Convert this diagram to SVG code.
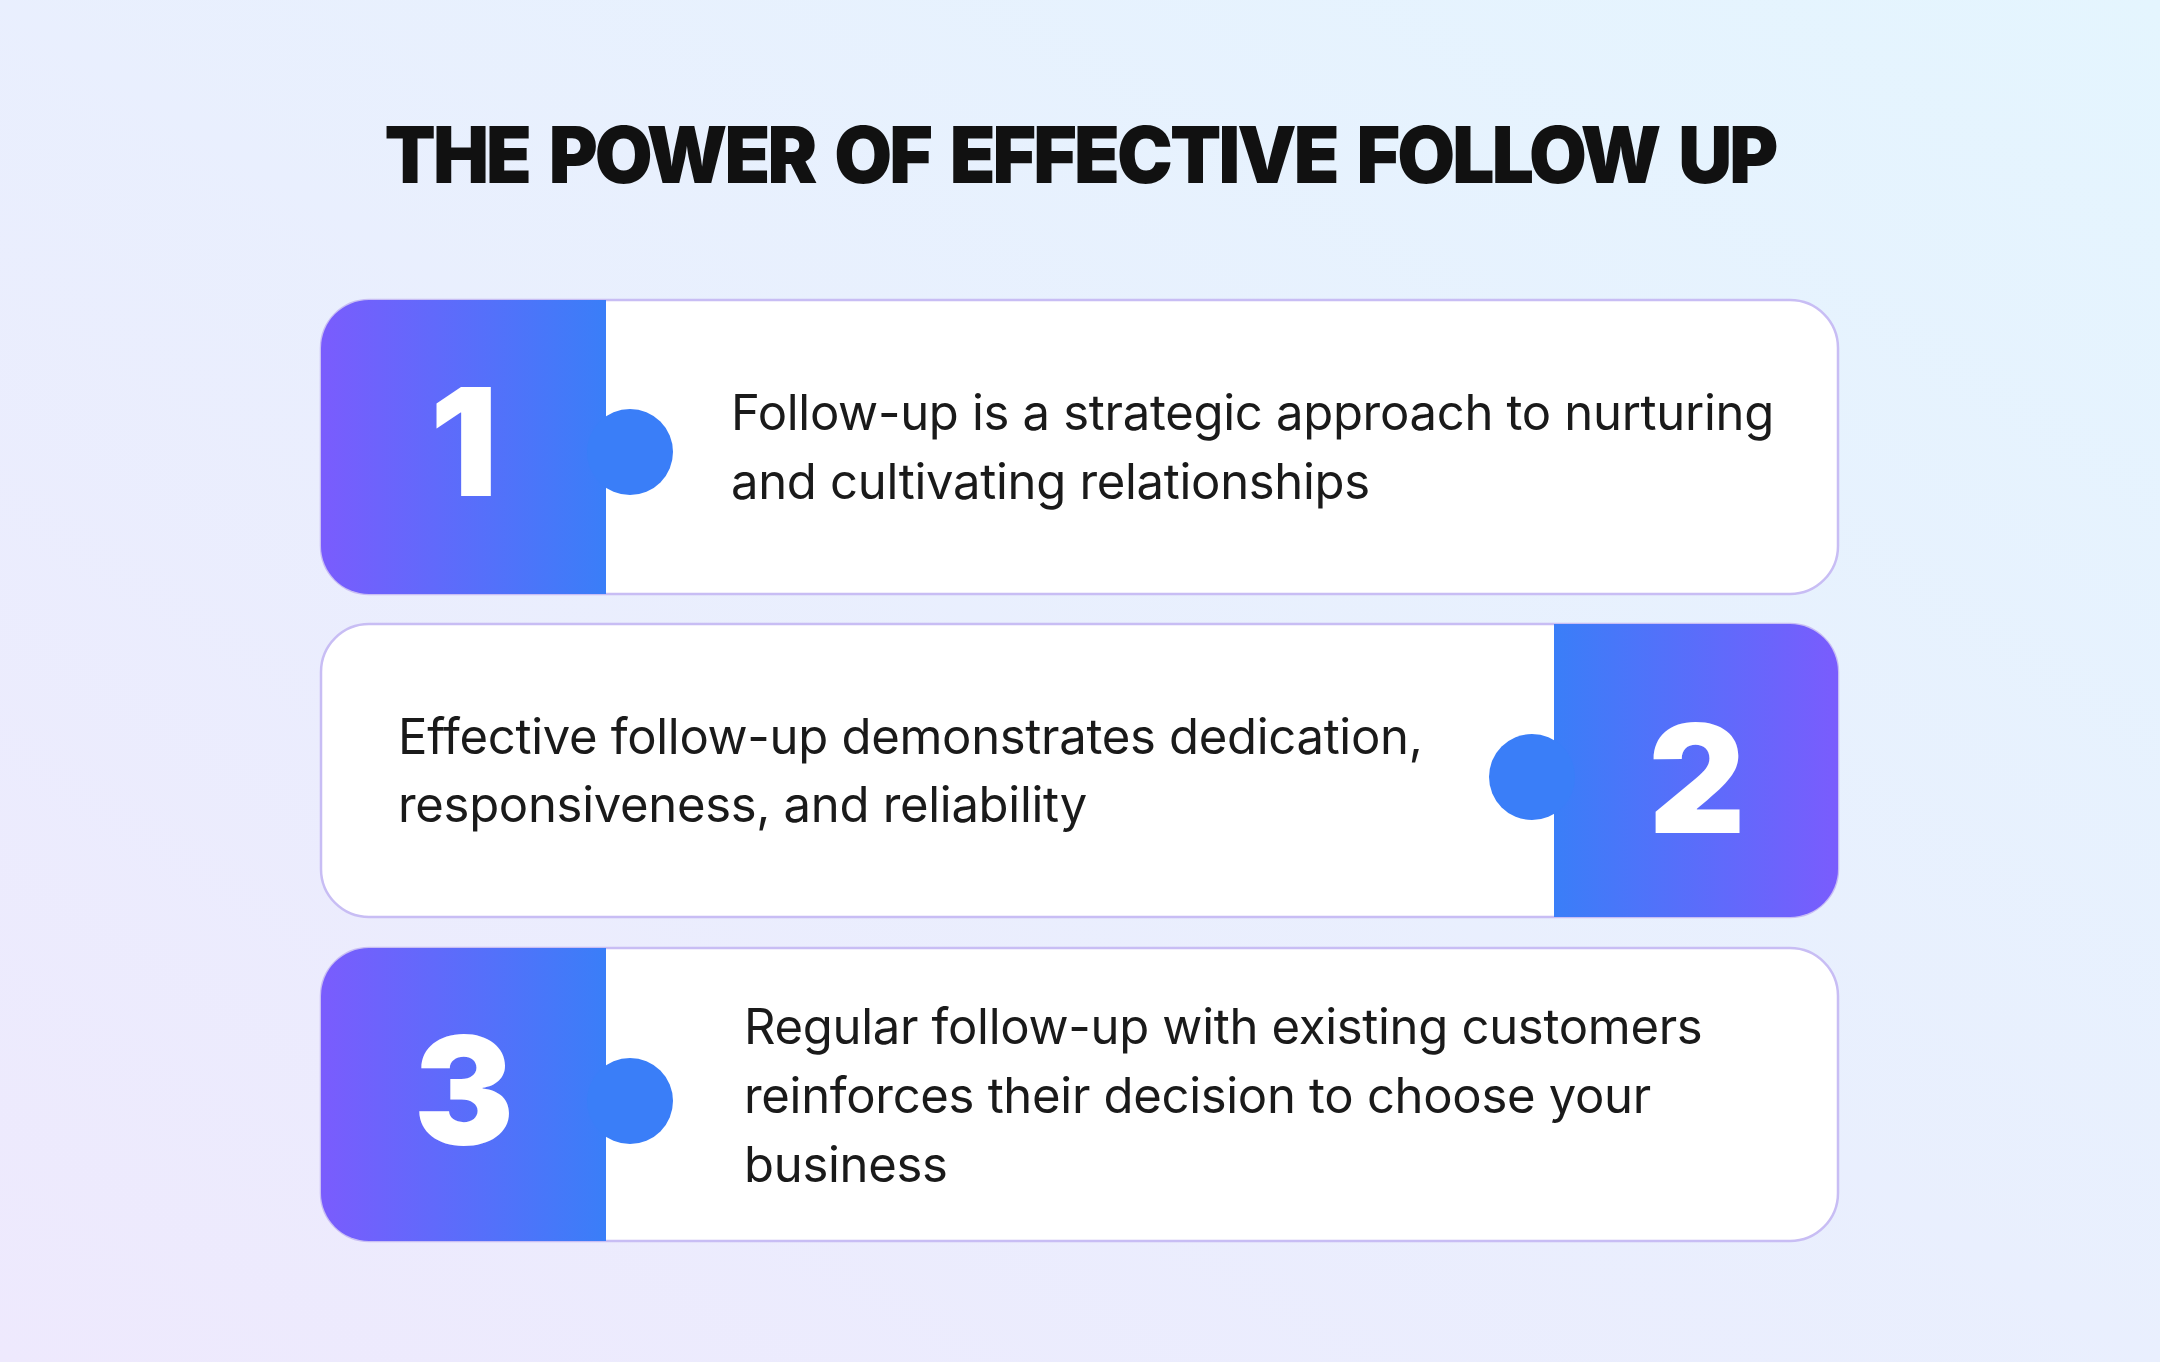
<svg xmlns="http://www.w3.org/2000/svg" width="2160" height="1362" viewBox="0 0 2160 1362">
<defs>
<linearGradient id="bg" x1="0" y1="1" x2="1" y2="0"><stop offset="0" stop-color="#eee9fd"/><stop offset="1" stop-color="#e4f5fe"/></linearGradient>
<linearGradient id="gl" x1="0" y1="0" x2="1" y2="0"><stop offset="0" stop-color="#7a5cfd"/><stop offset="1" stop-color="#3a7ef8"/></linearGradient>
<linearGradient id="gr" x1="1" y1="0" x2="0" y2="0"><stop offset="0" stop-color="#7a5cfd"/><stop offset="1" stop-color="#3a7ef8"/></linearGradient>
<style>
.card{fill:#fff;stroke:#c8bdf4;stroke-width:2.5}
.dot{fill:#3a7ef8}
.num{font-family:Inter,"Liberation Sans",sans-serif;font-weight:900;font-size:150px;fill:#fff;text-anchor:middle}
.txt{font-family:Inter,"Liberation Sans",sans-serif;font-size:49px;fill:#1a1a1a;letter-spacing:-0.3px}
.title{font-family:Inter,"Liberation Sans",sans-serif;font-weight:900;font-size:78px;fill:#111;text-anchor:middle;letter-spacing:-3px;word-spacing:8px}
</style>
</defs>
<rect width="2160" height="1362" fill="url(#bg)"/>
<text class="title" x="1080" y="183" textLength="1391" lengthAdjust="spacingAndGlyphs">THE POWER OF EFFECTIVE FOLLOW UP</text>
<g id="node1">
<rect class="card" x="321" y="300" width="1517" height="294" rx="48"/>
<path d="M606,300 H369 A48,48 0 0 0 321,348 V546 A48,48 0 0 0 369,594 H606 Z" fill="url(#gl)"/>
<circle class="dot" cx="630" cy="452" r="43"/>
<text class="num" x="464" y="496">1</text>
<text class="txt" x="731" y="430">Follow-up is a strategic approach to nurturing</text>
<text class="txt" x="731" y="499">and cultivating relationships</text>
</g>
<g id="node2">
<rect class="card" x="321" y="624" width="1517" height="293" rx="48"/>
<path d="M1554,624 H1790 A48,48 0 0 1 1838,672 V869 A48,48 0 0 1 1790,917 H1554 Z" fill="url(#gr)"/>
<circle class="dot" cx="1532" cy="777" r="43"/>
<text class="num" x="1697" y="833">2</text>
<text class="txt" x="398" y="754">Effective follow-up demonstrates dedication,</text>
<text class="txt" x="398" y="822">responsiveness, and reliability</text>
</g>
<g id="node3">
<rect class="card" x="321" y="948" width="1517" height="293" rx="48"/>
<path d="M606,948 H369 A48,48 0 0 0 321,996 V1193 A48,48 0 0 0 369,1241 H606 Z" fill="url(#gl)"/>
<circle class="dot" cx="630" cy="1101" r="43"/>
<text class="num" x="464" y="1145">3</text>
<text class="txt" x="744" y="1044">Regular follow-up with existing customers</text>
<text class="txt" x="744" y="1113">reinforces their decision to choose your</text>
<text class="txt" x="744" y="1182">business</text>
</g>
<g id="connectors"></g>
</svg>
